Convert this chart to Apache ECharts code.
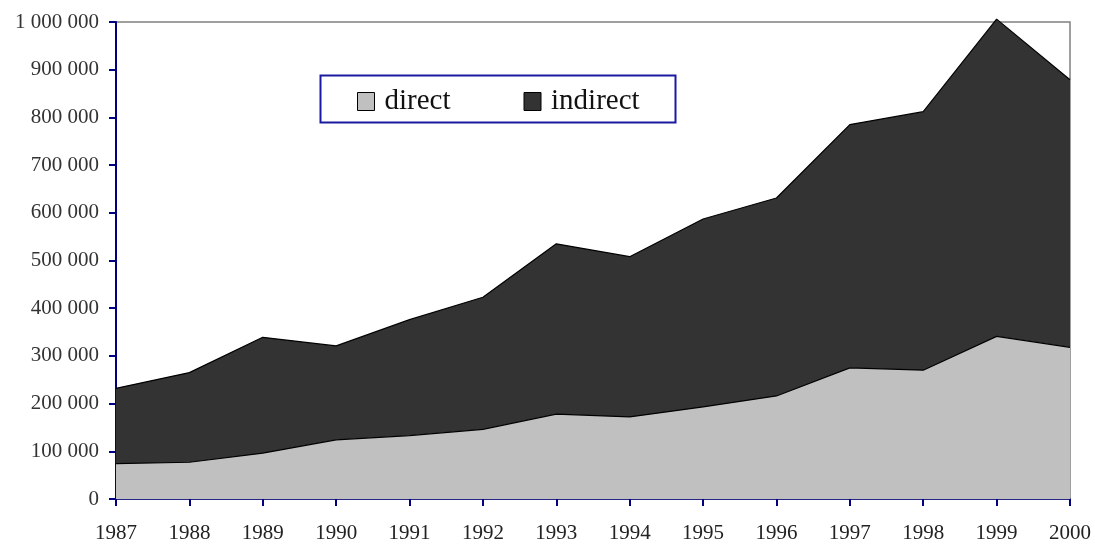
<!DOCTYPE html>
<html>
<head>
<meta charset="utf-8">
<title>direct / indirect</title>
<script src="https://cdn.jsdelivr.net/npm/echarts@6/dist/echarts.min.js"></script>
<style>
  html, body { margin: 0; padding: 0; background: #fff; }
  #main { width: 1095px; height: 544px; }
</style>
</head>
<body>
<div id="main"></div>
<script>
// data
const years = ['1987', '1988', '1989', '1990', '1991', '1992', '1993', '1994', '1995', '1996', '1997', '1998', '1999', '2000']
const direct = [74000, 77000, 96000, 124000, 133000, 146000, 178000, 172000, 193000, 216000, 275000, 270000, 341000, 318000]
const indirect = [158000, 188000, 243000, 197000, 243000, 277000, 357000, 336000, 394000, 415000, 510000, 542000, 665000, 561000]
const seriesNames = ['direct', 'indirect']

const FONT = '"Liberation Serif", "DejaVu Serif", serif'
const AXIS_BLUE = '#000080'

// 1000000 -> "1 000 000"
let fmtNum = (val) => String(val).replace(/\B(?=(\d{3})+(?!\d))/g, ' ')

let chart = echarts.init(document.getElementById('main'), null, { renderer: 'canvas' })

let option = {
  animation: false,
  backgroundColor: '#fff',
  grid: {
    left: 116,
    right: 25,
    top: 22,
    bottom: 42,
    show: true,
    borderColor: '#808080',
    borderWidth: 1.5
  },
  legend: {
    data: seriesNames,
    left: 357,
    top: 87,
    padding: 0,
    icon: 'rect',
    itemWidth: 17,
    itemHeight: 18,
    itemGap: 73,
    textStyle: {
      fontFamily: FONT,
      fontSize: 29,
      color: '#111',
      padding: [0, 0, 0, 5]
    },
    itemStyle: {
      borderColor: '#000',
      borderWidth: 1
    }
  },
  graphic: [
    // legend frame
    {
      type: 'rect',
      left: 318,
      top: 73,
      shape: { width: 355, height: 47 },
      style: { fill: 'none', stroke: '#1a1aa0', lineWidth: 2 },
      z: 1
    }
  ],
  xAxis: {
    type: 'category',
    data: years,
    boundaryGap: false,
    axisLine: { lineStyle: { color: AXIS_BLUE, width: 1.5 } },
    axisTick: { show: true, inside: false, length: 7, interval: 0, lineStyle: { color: AXIS_BLUE, width: 2 } },
    axisLabel: {
      interval: 0,
      margin: 24,
      fontFamily: FONT,
      fontSize: 21,
      color: '#222'
    },
    splitLine: { show: false }
  },
  yAxis: {
    type: 'value',
    min: 0,
    max: 1000000,
    interval: 100000,
    axisLine: { show: true, lineStyle: { color: AXIS_BLUE, width: 2 } },
    axisTick: { show: true, inside: false, length: 7, lineStyle: { color: AXIS_BLUE, width: 2 } },
    axisLabel: {
      margin: 17,
      fontFamily: FONT,
      fontSize: 21,
      color: '#333',
      formatter: fmtNum
    },
    splitLine: { show: false }
  },
  series: [
    {
      name: 'direct',
      type: 'line',
      stack: 'total',
      data: direct,
      symbol: 'none',
      clip: false,
      itemStyle: { color: '#c0c0c0' },
      lineStyle: { color: '#000', width: 1.2 },
      areaStyle: { color: '#c0c0c0', opacity: 1 },
      z: 2
    },
    {
      name: 'indirect',
      type: 'line',
      stack: 'total',
      data: indirect,
      symbol: 'none',
      clip: false,
      itemStyle: { color: '#333333' },
      lineStyle: { color: '#000', width: 1.2 },
      areaStyle: { color: '#333333', opacity: 1 },
      z: 2
    }
  ]
}

chart.setOption(option)
</script>
</body>
</html>
